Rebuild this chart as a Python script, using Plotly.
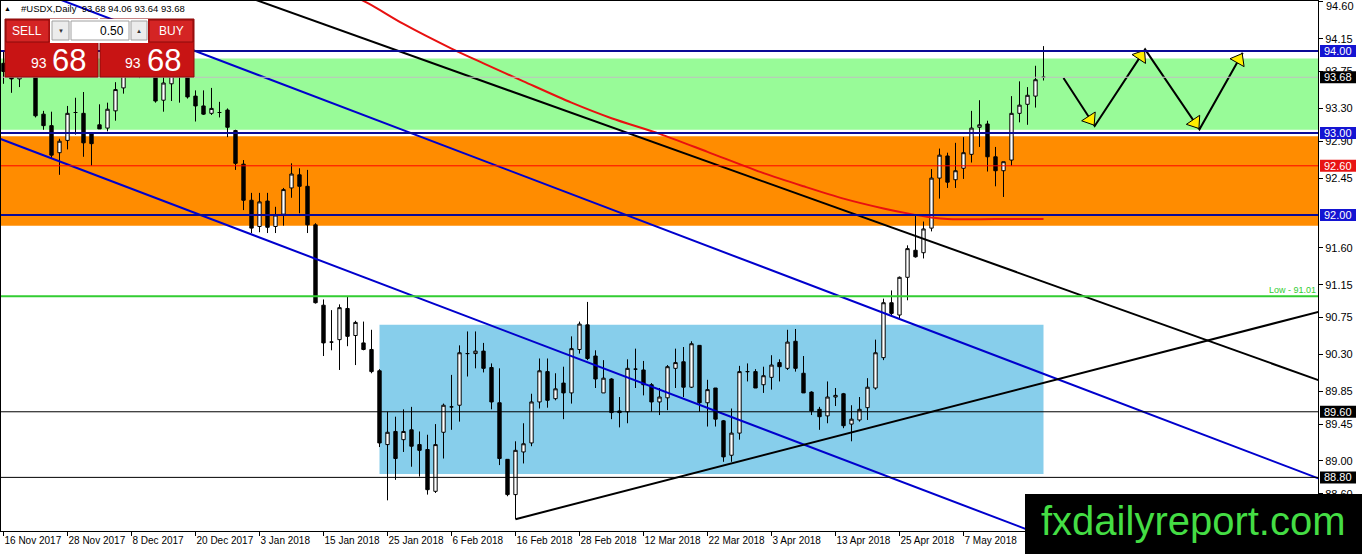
import math
import plotly.graph_objects as go

# ---------------- data ----------------
date_labels = ["16 Nov 2017", "28 Nov 2017", "8 Dec 2017", "20 Dec 2017", "3 Jan 2018",
               "15 Jan 2018", "25 Jan 2018", "6 Feb 2018", "16 Feb 2018", "28 Feb 2018",
               "12 Mar 2018", "22 Mar 2018", "3 Apr 2018", "13 Apr 2018", "25 Apr 2018",
               "7 May 2018"]
date_label_bars = [0, 8, 16, 24, 32, 40, 48, 56, 64, 72, 80, 88, 96, 104, 112, 120]

opens = [93.85, 93.75, 93.66, 93.92, 93.85, 93.23, 93.09, 92.76, 92.91, 93.25,
         93.24, 92.99, 93.10, 93.06, 93.27, 93.55, 93.80, 93.90, 93.95, 94.00,
         93.40, 93.60, 93.85, 93.72, 93.45, 93.33, 93.24, 93.25, 93.28, 93.03,
         92.62, 92.18, 91.86, 92.17, 91.86, 92.01, 92.33, 92.49, 92.35, 91.88,
         90.90, 90.45, 90.48, 90.86, 90.53, 90.44, 90.36, 90.10, 89.20, 89.36,
         89.26, 89.38, 89.20, 89.14, 88.63, 89.35, 89.66, 89.68, 90.31, 90.31,
         90.34, 90.14, 89.71, 89.02, 88.59, 89.11, 89.22, 89.72, 90.09, 89.76,
         89.95, 89.83, 90.36, 90.66, 90.28, 89.83, 90.00, 89.61, 89.60, 90.12,
         90.11, 89.93, 89.72, 89.77, 90.13, 90.21, 89.90, 90.41, 89.71, 89.89,
         89.49, 89.07, 89.34, 90.09, 90.09, 89.93, 90.02, 90.20, 90.13, 90.46,
         90.07, 89.84, 89.63, 89.55, 89.78, 89.82, 89.45, 89.50, 89.65, 89.89,
         90.26, 90.93, 90.78, 91.24, 91.57, 91.54, 91.84, 92.45, 92.72, 92.43,
         92.57, 92.74, 93.07, 93.11, 92.71, 92.54, 92.67, 93.24, 93.35, 93.45,
         93.68]
highs = [94.00, 93.85, 94.00, 94.05, 93.90, 93.27, 93.26, 92.93, 93.33, 93.43,
         93.50, 92.99, 93.35, 93.37, 93.62, 93.88, 94.05, 94.06, 94.20, 94.10,
         93.75, 93.95, 93.95, 93.80, 93.52, 93.52, 93.55, 93.38, 93.30, 93.04,
         92.67, 92.27, 92.27, 92.27, 92.10, 92.33, 92.63, 92.57, 92.55, 91.90,
         90.97, 90.84, 90.91, 91.00, 90.71, 90.70, 90.60, 90.12, 89.60, 89.54,
         89.63, 89.66, 89.36, 89.32, 89.45, 89.70, 90.05, 90.41, 90.58, 90.58,
         90.44, 90.19, 90.13, 89.02, 89.24, 89.46, 89.82, 90.25, 90.25, 90.07,
         90.15, 90.52, 90.70, 90.94, 90.35, 90.23, 90.01, 89.78, 90.24, 90.37,
         90.22, 89.95, 89.89, 90.17, 90.37, 90.39, 90.46, 90.41, 89.99, 89.89,
         89.50, 89.64, 90.16, 90.19, 90.12, 90.15, 90.29, 90.24, 90.60, 90.61,
         90.28, 89.85, 89.66, 89.97, 89.89, 89.83, 89.68, 89.78, 90.01, 90.48,
         90.98, 91.08, 91.25, 91.63, 91.99, 91.92, 92.56, 92.81, 92.76, 92.88,
         92.95, 93.27, 93.40, 93.15, 92.83, 92.65, 93.45, 93.63, 93.56, 93.82,
         94.06]
lows = [93.60, 93.49, 93.56, 93.72, 93.19, 93.04, 92.69, 92.49, 92.80, 92.98,
        92.71, 92.60, 93.05, 93.02, 93.15, 93.48, 93.72, 93.67, 93.80, 93.37,
        93.26, 93.39, 93.37, 93.42, 93.14, 93.22, 93.22, 93.19, 92.95, 92.55,
        92.06, 91.78, 91.79, 91.78, 91.78, 91.87, 92.21, 92.02, 91.78, 90.92,
        90.28, 90.35, 90.11, 90.40, 90.17, 90.35, 90.07, 89.17, 88.52, 88.77,
        89.11, 88.93, 88.81, 88.59, 88.61, 89.03, 89.38, 89.48, 90.03, 90.13,
        90.08, 89.63, 88.95, 88.57, 88.29, 88.97, 89.18, 89.64, 89.65, 89.74,
        89.51, 89.70, 90.31, 90.23, 89.89, 89.83, 89.51, 89.41, 89.46, 89.89,
        89.80, 89.60, 89.56, 89.62, 89.89, 89.78, 89.89, 89.60, 89.42, 89.42,
        88.99, 88.99, 89.26, 89.97, 89.89, 89.83, 89.87, 89.97, 90.11, 90.09,
        89.83, 89.56, 89.38, 89.46, 89.67, 89.40, 89.24, 89.48, 89.50, 89.87,
        90.23, 90.76, 90.72, 90.96, 91.48, 91.47, 91.80, 92.20, 92.33, 92.33,
        92.44, 92.64, 92.83, 92.53, 92.35, 92.22, 92.60, 93.13, 93.10, 93.31,
        93.64]
closes = [93.75, 93.66, 93.92, 93.85, 93.21, 93.09, 92.73, 92.90, 93.24, 93.25,
          92.88, 92.87, 93.05, 93.29, 93.53, 93.80, 93.90, 93.95, 94.05, 93.39,
          93.61, 93.85, 93.72, 93.44, 93.33, 93.23, 93.30, 93.25, 93.07, 92.63,
          92.18, 91.84, 92.16, 91.85, 92.00, 92.31, 92.50, 92.35, 91.88, 90.93,
          90.44, 90.45, 90.87, 90.52, 90.69, 90.36, 90.09, 89.22, 89.35, 89.03,
          89.36, 89.18, 89.13, 88.65, 89.20, 89.68, 89.66, 90.32, 90.31, 90.34,
          90.13, 89.72, 89.03, 88.59, 89.13, 89.21, 89.72, 90.10, 89.74, 89.88,
          89.83, 90.37, 90.67, 90.25, 90.00, 90.01, 89.59, 89.59, 90.13, 90.12,
          89.93, 89.72, 89.78, 90.15, 90.20, 89.90, 90.43, 89.71, 89.87, 89.51,
          89.05, 89.34, 90.09, 90.09, 89.89, 90.04, 90.17, 90.15, 90.45, 90.13,
          89.83, 89.61, 89.54, 89.78, 89.80, 89.43, 89.51, 89.63, 89.90, 90.32,
          90.93, 90.80, 91.24, 91.59, 91.49, 91.83, 92.45, 92.73, 92.40, 92.54,
          92.76, 93.06, 93.10, 92.71, 92.54, 92.65, 93.24, 93.34, 93.46, 93.65,
          93.68]

# red moving average (bar index, value)
ma_bars = [44, 46, 50, 56, 60, 65, 71, 76, 82, 88, 95, 100, 105, 110, 113, 116, 118, 124, 130]
ma_vals = [94.66, 94.56, 94.33, 94.03, 93.85, 93.63, 93.37, 93.18, 92.99, 92.77,
           92.51, 92.35, 92.20, 92.08, 92.02, 91.97, 91.95, 91.95, 91.95]

# trend lines: two anchor points each (bar index, price)
upper_blue = [(23.7, 94.01), (164.3, 88.79)]
lower_blue = [(-0.44, 92.93), (124.56, 88.29)]
black_down = [(42.06, 94.256), (164.3, 89.988)]
black_up = [(64.0, 88.29), (164.3, 90.817)]

# projected zigzag path
zig_bars = [132.5, 136.4, 142.7, 149.5, 154.9]
zig_prices = [93.67, 93.085, 94.02, 93.045, 93.98]

# zones
green_zone = (93.04, 93.91)
orange_zone = (91.87, 92.96)
blue_box_bars = (47.0, 130.0)
blue_box_prices = (88.84, 90.66)

# horizontal levels
level_prices = [94.00, 93.68, 93.00, 92.60, 92.00, 89.60, 88.80]
level_line_colors = ["#0A0A96", "#C0C0C0", "#0A0A96", "#FF0000", "#0A0A96", "#000000", "#000000"]
level_line_widths = [2, 1, 2, 1, 2, 1, 1]
level_box_colors = ["#1414D2", "#000000", "#1414D2", "#E81414", "#1414D2", "#000000", "#000000"]
low_level = 91.01

y_ticks = [94.60, 94.15, 93.75, 93.30, 92.90, 92.45, 91.60, 91.15, 90.75, 90.30,
           89.85, 89.45, 89.00, 88.60]

# ---------------- geometry ----------------
W, H = 1362, 554
ML, MR, MT, MB = 1, 44, 1, 23
PW, PH = W - ML - MR, H - MT - MB
BAR_PX = 8.0
XR0 = -0.3125
XR1 = XR0 + PW / BAR_PX
YR0, YR1 = 88.146, 94.61
UNIT_PX = PH / (YR1 - YR0)


def pxx(px):
    return (px - ML) / PW


def pxy(py):
    return 1 - (py - MT) / PH


def ray(p1, p2, start_at_first=False):
    (x1, y1), (x2, y2) = p1, p2
    s = (y2 - y1) / (x2 - x1)
    xa = x1 if start_at_first else XR0 - 1
    xb = XR1 + 1
    return [xa, xb], [y1 + s * (xa - x1), y1 + s * (xb - x1)]


fig = go.Figure()
idx = list(range(len(opens)))

fig.add_trace(go.Candlestick(
    x=idx, open=opens, high=highs, low=lows, close=closes,
    increasing=dict(line=dict(color="black", width=1), fillcolor="white"),
    decreasing=dict(line=dict(color="black", width=1), fillcolor="black"),
    whiskerwidth=0, showlegend=False, hoverinfo="skip"))

# moving average
fig.add_trace(go.Scatter(x=ma_bars, y=ma_vals, mode="lines",
                         line=dict(color="#E81010", width=2, shape="spline", smoothing=0.8),
                         showlegend=False, hoverinfo="skip"))

for pts, col, first in [(upper_blue, "#0000CD", False), (lower_blue, "#0000CD", False),
                        (black_down, "#000000", False), (black_up, "#000000", True)]:
    xs, ys = ray(pts[0], pts[1], first)
    fig.add_trace(go.Scatter(x=xs, y=ys, mode="lines", line=dict(color=col, width=2),
                             showlegend=False, hoverinfo="skip"))

# zigzag
fig.add_trace(go.Scatter(x=zig_bars, y=zig_prices, mode="lines",
                         line=dict(color="black", width=2), showlegend=False, hoverinfo="skip"))
ax, ay, ang = [], [], []
for k in range(1, len(zig_bars)):
    dx = (zig_bars[k] - zig_bars[k - 1]) * BAR_PX
    dy = -(zig_prices[k] - zig_prices[k - 1]) * UNIT_PX
    th = math.atan2(dx, -dy)
    back = 8.0
    ax.append(zig_bars[k] - back * math.sin(th) / BAR_PX)
    ay.append(zig_prices[k] - back * math.cos(th) / UNIT_PX)
    ang.append(math.degrees(th))
fig.add_trace(go.Scatter(x=ax, y=ay, mode="markers",
                         marker=dict(symbol="triangle-up", size=14, angle=ang, color="#FFEE00",
                                     line=dict(color="black", width=1)),
                         showlegend=False, hoverinfo="skip"))

shapes = []
# zones (below)
shapes.append(dict(type="rect", layer="below", xref="paper", yref="y", x0=0, x1=1,
                   y0=green_zone[0], y1=green_zone[1], fillcolor="#98FB98", line=dict(width=0)))
shapes.append(dict(type="rect", layer="below", xref="paper", yref="y", x0=0, x1=1,
                   y0=orange_zone[0], y1=orange_zone[1], fillcolor="#FF8C00", line=dict(width=0)))
shapes.append(dict(type="rect", layer="below", xref="x", yref="y", x0=blue_box_bars[0],
                   x1=blue_box_bars[1], y0=blue_box_prices[0], y1=blue_box_prices[1],
                   fillcolor="#87CEEB", line=dict(width=0)))
# level lines
for p, c, w in zip(level_prices, level_line_colors, level_line_widths):
    shapes.append(dict(type="line", layer="above", xref="paper", yref="y", x0=0, x1=1,
                       y0=p, y1=p, line=dict(color=c, width=w)))
shapes.append(dict(type="line", layer="above", xref="paper", yref="y", x0=0, x1=1,
                   y0=low_level, y1=low_level, line=dict(color="#32CD32", width=2)))

annotations = []


def rect_px(x0, y0, x1, y1, fill, line=None, lw=0):
    shapes.append(dict(type="rect", layer="above", xref="paper", yref="paper",
                       x0=pxx(x0), x1=pxx(x1), y0=pxy(y1), y1=pxy(y0), fillcolor=fill,
                       line=dict(color=line or fill, width=lw)))


def text_px(x, y, s, size, color, anchor="center", family="Liberation Sans"):
    annotations.append(dict(xref="paper", yref="paper", x=pxx(x), y=pxy(y), text=s,
                            showarrow=False, xanchor=anchor, yanchor="middle",
                            font=dict(family=family, size=size, color=color)))


# trade panel
rect_px(5, 19, 98, 77, "#C81414", "#8A0A0A", 1)
rect_px(100, 19, 194, 77, "#C81414", "#8A0A0A", 1)
rect_px(50, 19, 148, 43, "#FFFFFF")
rect_px(6, 20, 49, 42, "#D42424", "#8A0A0A", 1)
rect_px(149, 20, 193, 42, "#D42424", "#8A0A0A", 1)
rect_px(52, 21, 69, 40, "#ECECEC", "#A0A0A0", 1)
rect_px(71, 21, 129, 40, "#FFFFFF", "#A0A0A0", 1)
rect_px(131, 21, 147, 40, "#ECECEC", "#A0A0A0", 1)
text_px(27, 31, "SELL", 12, "white")
text_px(171, 31, "BUY", 12, "white")
text_px(126, 30.5, f"{0.50:.2f}", 12, "black", "right")
text_px(60.5, 30.5, "▼", 6, "#333333")
text_px(139, 30.5, "▲", 6, "#333333")
last_close = closes[-1]
big = f"{last_close:.2f}"
text_px(49, 63, big[:2], 14, "white", "right")
text_px(69, 61, big[3:], 31, "white")
text_px(143, 63, big[:2], 14, "white", "right")
text_px(164, 61, big[3:], 31, "white")

# title
text_px(7, 8.5, "▲", 7, "black")
text_px(19, 8.5, f"#USDX,Daily  {opens[-1]:.2f} {highs[-1]:.2f} {lows[-1]:.2f} {closes[-1]:.2f}",
        9.5, "black", "left")

# level labels on the price axis
for p, c in zip(level_prices, level_box_colors):
    shapes.append(dict(type="rect", layer="above", xref="paper", yref="y",
                       x0=pxx(1320), x1=pxx(1356), y0=p - 6 / UNIT_PX, y1=p + 6 / UNIT_PX,
                       fillcolor=c, line=dict(width=0)))
    annotations.append(dict(xref="paper", yref="y", x=pxx(1322), y=p, text=f"{p:.2f}",
                            showarrow=False, xanchor="left", yanchor="middle",
                            font=dict(family="Liberation Sans", size=11, color="white")))
annotations.append(dict(xref="paper", yref="y", x=1, y=low_level, text=f"Low - {low_level:.2f}",
                        showarrow=False, xanchor="right", yanchor="bottom", yshift=-1,
                        font=dict(family="Liberation Sans", size=9, color="#32CD32")))

# the topmost tick label sits just inside the chart's top edge, as in the terminal
tick_text = [f"{v:.2f}" for v in y_ticks]
top_tick_label = tick_text[0]
tick_text[0] = ""
annotations.append(dict(xref="paper", yref="paper", x=pxx(1324), y=pxy(5.5), text=top_tick_label,
                        showarrow=False, xanchor="left", yanchor="middle",
                        font=dict(family="Liberation Sans", size=11, color="black")))

# watermark
rect_px(1025, 494, 1363, 555, "#000000")
text_px(1193, 521, "fxdailyreport.com", 40, "#44DD44")

fig.update_layout(
    width=W, height=H, margin=dict(l=ML, r=MR, t=MT, b=MB, autoexpand=False),
    paper_bgcolor="white", plot_bgcolor="white", boxgap=0.4,
    shapes=shapes, annotations=annotations, showlegend=False,
    xaxis=dict(range=[XR0, XR1], showgrid=False, zeroline=False, showline=True, mirror=True,
               linecolor="black", linewidth=1, tickmode="array", tickvals=date_label_bars,
               ticktext=date_labels, ticks="outside", ticklen=4, tickcolor="black",
               ticklabelposition="outside right", tickangle=0, automargin=False,
               ticklabeloverflow="allow",
               tickfont=dict(family="Liberation Sans", size=10, color="black"),
               rangeslider=dict(visible=False), fixedrange=True),
    yaxis=dict(range=[YR0, YR1], side="right", showgrid=False, zeroline=False, showline=True,
               mirror=True, linecolor="black", linewidth=1, tickmode="array", tickvals=y_ticks,
               ticktext=tick_text, ticks="outside", ticklen=4,
               tickcolor="black", automargin=False, ticklabeloverflow="allow",
               tickfont=dict(family="Liberation Sans", size=11, color="black"),
               fixedrange=True),
)

fig.write_html("out.html", config={"displayModeBar": False},
               post_script="document.body.style.margin='0';document.body.style.overflow='hidden';")
